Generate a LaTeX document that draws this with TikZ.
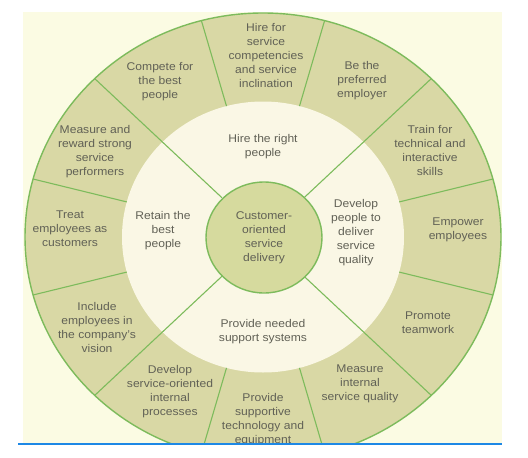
\documentclass[tikz,border=0pt]{standalone}
\usepackage{fontspec}
\setmainfont{Liberation Sans}[FakeStretch=1.08]
\definecolor{bgyellow}{HTML}{FBFBE3}
\definecolor{ringfill}{HTML}{D9D8A5}
\definecolor{innerfill}{HTML}{FAF7E5}
\definecolor{corefill}{HTML}{D6DA9E}
\definecolor{linegreen}{HTML}{7DBB5C}
\definecolor{txtgray}{HTML}{616156}
\definecolor{blueline}{HTML}{1E88E5}
\tikzset{
  lbl/.style={align=center, inner sep=0pt, text=txtgray, font=\fontsize{11.2}{14}\selectfont},
  divider/.style={draw=linegreen, line width=1.1pt},
}
\begin{document}
\begin{tikzpicture}[x=1pt,y=-1pt]
\useasboundingbox (0,0) rectangle (528,458);
\def\cx{263}\def\cy{237}
\begin{scope}
\clip (0,0) rectangle (528,443);
\fill[bgyellow] (22.5,12) rectangle (502,443);
\fill[ringfill] (\cx,\cy) ellipse [x radius=238, y radius=224];
\fill[innerfill] (\cx,\cy) ellipse [x radius=141, y radius=135.5];
% outer ring dividers
\foreach \a in {15,75,105,165,195,255,285,345}{
  \draw[divider] ({\cx+141*cos(\a)},{\cy+135.5*sin(\a)}) -- ({\cx+238*cos(\a)},{\cy+224*sin(\a)});
}
% diagonals
\foreach \a in {45,135,225,315}{
  \draw[divider] ({\cx+58*cos(\a)},{\cy+55.5*sin(\a)}) -- ({\cx+238*cos(\a)},{\cy+224*sin(\a)});
}
\draw[divider, fill=corefill, line width=1.4pt] (\cx+1,\cy+0.5) ellipse [x radius=58, y radius=55.5];
\draw[draw=linegreen, line width=1.4pt] (\cx,\cy) ellipse [x radius=238, y radius=224];
% texts
\node[lbl] (core) at (264,238) {Customer-\\oriented\\service\\delivery};
\node[lbl] (hire) at (263,147) {Hire the right\\people};
\node[lbl] (retain) at (163,231) {Retain the\\best\\people};
\node[lbl] (develop) at (356,233) {Develop\\people to\\deliver\\service\\quality};
\node[lbl] (support) at (263,332) {Provide needed\\support systems};
\node[lbl] (o1) at (266,55) {Hire for\\service\\competencies\\and service\\inclination};
\node[lbl] (o2) at (362,81) {Be the\\preferred\\employer};
\node[lbl] (o3) at (430,150) {Train for\\technical and\\interactive\\skills};
\node[lbl] (o4) at (458,230) {Empower\\employees};
\node[lbl] (o5) at (428,323) {Promote\\teamwork};
\node[lbl] (o6) at (360,384) {Measure\\internal\\service quality};
\node[lbl] (o7) at (263,420) {Provide\\supportive\\technology and\\equipment};
\node[lbl] (o8) at (170,392) {Develop\\service-oriented\\internal\\processes};
\node[lbl] (o9) at (97,327) {Include\\employees in\\the company's\\vision};
\node[lbl] (o10) at (70,229) {Treat\\employees as\\customers};
\node[lbl] (o11) at (95,152) {Measure and\\reward strong\\service\\performers};
\node[lbl] (o12) at (160,82) {Compete for\\the best\\people};
\end{scope}
\draw[blueline, line width=2pt] (18,444) -- (502,444);
\end{tikzpicture}
\end{document}
